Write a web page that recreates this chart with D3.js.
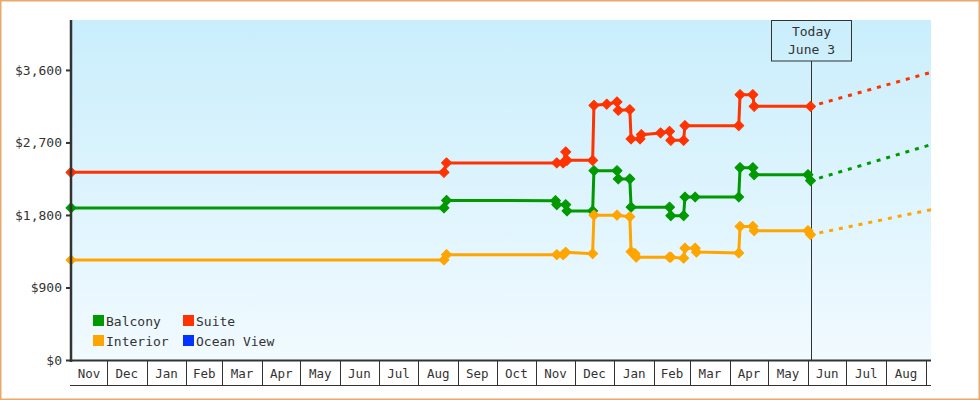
<!DOCTYPE html>
<html><head><meta charset="utf-8">
<script src="https://cdn.jsdelivr.net/npm/d3@7"></script>
<style>
html,body{margin:0;padding:0;background:#fff;}
svg{display:block;}
text{font-family:"DejaVu Sans Mono",monospace;fill:#333;}
</style>
</head><body>
<svg id="chart" width="980" height="400"></svg>
<script>
// ---------- data ----------
const categories = ["Balcony", "Suite", "Interior", "Ocean View"];
const colors = ["#009900", "#ff3300", "#ffa500", "#0033ff"];

const balcony = [
  ["2021-11-03",1887],["2022-08-21",1887],["2022-08-23",1981],["2022-11-16",1978],
  ["2022-11-17",1928],["2022-11-24",1928],["2022-11-25",1850],["2022-12-15",1850],
  ["2022-12-16",2350],["2023-01-03",2350],["2023-01-04",2247],["2023-01-13",2247],
  ["2023-01-14",1897],["2023-02-13",1897],["2023-02-14",1791],["2023-02-24",1791],
  ["2023-02-25",2023],["2023-03-05",2023],["2023-04-08",2023],["2023-04-09",2387],
  ["2023-04-19",2387],["2023-04-20",2300],["2023-06-01",2300],["2023-06-03",2226]
];
const suite = [
  ["2021-11-03",2329],["2022-08-21",2329],["2022-08-23",2446],["2022-11-17",2446],
  ["2022-11-22",2446],["2022-11-24",2582],["2022-11-25",2478],["2022-12-15",2478],
  ["2022-12-16",3161],["2022-12-26",3175],["2023-01-03",3203],["2023-01-04",3099],
  ["2023-01-13",3107],["2023-01-14",2744],["2023-01-21",2744],["2023-01-22",2797],
  ["2023-02-06",2818],["2023-02-13",2838],["2023-02-14",2726],["2023-02-24",2726],
  ["2023-02-25",2909],["2023-04-08",2909],["2023-04-09",3293],["2023-04-19",3293],
  ["2023-04-20",3148],["2023-06-03",3148]
];
const interior = [
  ["2021-11-03",1241],["2022-08-21",1241],["2022-08-23",1307],["2022-11-17",1307],
  ["2022-11-22",1307],["2022-11-24",1336],["2022-12-15",1320],["2022-12-16",1797],
  ["2023-01-03",1797],["2023-01-13",1779],["2023-01-14",1344],["2023-01-17",1320],
  ["2023-01-18",1276],["2023-02-13",1276],["2023-02-14",1276],["2023-02-24",1264],
  ["2023-02-25",1388],["2023-03-05",1388],["2023-03-06",1340],["2023-04-08",1328],
  ["2023-04-09",1658],["2023-04-19",1658],["2023-04-20",1605],["2023-06-01",1605],
  ["2023-06-03",1555]
];
const oceanView = [];

const seriesData = [balcony, suite, interior, oceanView];
const projectedValues = [2673, 3570, 1866, null];

const startDate = "2021-11-03";
const endDate = "2023-09-05";
const lastMonth = "2023-09-01";
const todayDate = "2023-06-03";
const todayLabels = ["Today", "June 3"];
const yTicks = [0, 900, 1800, 2700, 3600];
const yMax = 4220;

// ---------- layout ----------
const parse = d3.timeParse("%Y-%m-%d");
const L = 71, R = 931, T = 20, B = 360;
const svg = d3.select("#chart");

const x = d3.scaleTime().domain([parse(startDate), parse(endDate)]).range([L, R]);
const y = d3.scaleLinear().domain([0, yMax]).range([B, T]);

// background
const defs = svg.append("defs");
const grad = defs.append("linearGradient").attr("id","bg").attr("x1",0).attr("y1",0).attr("x2",0).attr("y2",1);
grad.append("stop").attr("offset","0%").attr("stop-color","#caeefc");
grad.append("stop").attr("offset","100%").attr("stop-color","#f1faff");

svg.append("rect").attr("x",0.75).attr("y",0.75).attr("width",978.5).attr("height",398.5)
  .attr("fill","#fff").attr("stroke","#e9a96b").attr("stroke-width",1.5);

svg.append("rect").attr("x",L).attr("y",T).attr("width",R-L).attr("height",B-T).attr("fill","url(#bg)");

// today marker
const tx = Math.round(x(parse(todayDate))) + 0.5;
svg.append("line").attr("x1",tx).attr("x2",tx).attr("y1",T+41).attr("y2",B)
  .attr("stroke","#333").attr("stroke-width",1);
svg.append("rect").attr("x",tx-40).attr("y",T+0.5).attr("width",80).attr("height",40.5)
  .attr("fill","none").attr("stroke","#333").attr("stroke-width",1);
todayLabels.forEach((t,i)=>{
  svg.append("text").attr("x",tx).attr("y",T+16+i*18).attr("text-anchor","middle")
    .attr("font-size","13px").attr("xml:space","preserve").text(t);
});

// series lines
const line = d3.line().x(d=>x(parse(d[0]))).y(d=>y(d[1]));
seriesData.forEach((s,i)=>{
  if(!s.length) return;
  svg.append("path").datum(s).attr("d",line).attr("fill","none")
    .attr("stroke",colors[i]).attr("stroke-width",3).attr("stroke-linejoin","round");
  if(projectedValues[i]!=null){
    const last = s[s.length-1];
    svg.append("path").datum([last,[endDate,projectedValues[i]]]).attr("d",line)
      .attr("fill","none").attr("stroke",colors[i]).attr("stroke-width",3)
      .attr("stroke-dasharray","4,6").attr("stroke-dashoffset",1);
  }
});
// markers
const sym = d3.symbol().type(d3.symbolSquare).size(50);
seriesData.forEach((s,i)=>{
  svg.append("g").selectAll("path").data(s).join("path")
    .attr("d",sym)
    .attr("transform",d=>`translate(${x(parse(d[0]))},${y(d[1])}) rotate(45)`)
    .attr("fill",colors[i]).attr("stroke",colors[i]).attr("stroke-width",1).attr("stroke-linejoin","round");
});

// x axis: month boxes
const months = d3.timeMonth.range(d3.timeMonth.floor(parse(startDate)), parse(lastMonth));
const fmt = d3.timeFormat("%b");
const xg = svg.append("g");
months.forEach(m=>{
  const x0 = Math.max(x(m), L);
  const x1 = x(d3.timeMonth.offset(m,1));
  xg.append("text").attr("x",(x0+x1)/2).attr("y",377.5).attr("text-anchor","middle")
    .attr("font-size","12.5px").text(fmt(m));
  const bx = Math.round(x1)+0.5;
  xg.append("line").attr("x1",bx).attr("x2",bx).attr("y1",B).attr("y2",385)
    .attr("stroke","#333").attr("stroke-width",1);
});
xg.append("line").attr("x1",L-1).attr("x2",R).attr("y1",385.5).attr("y2",385.5)
  .attr("stroke","#333").attr("stroke-width",1);
xg.append("line").attr("x1",L-1).attr("x2",R).attr("y1",B+0.5).attr("y2",B+0.5)
  .attr("stroke","#333").attr("stroke-width",2);

// y axis
const ya = svg.append("g").attr("transform",`translate(${L},0)`)
  .call(d3.axisLeft(y).tickValues(yTicks).tickFormat(d3.format("$,")).tickSize(5).tickPadding(4));
ya.select(".domain").remove();
ya.selectAll(".tick line").attr("stroke","#333").attr("stroke-width",2);
ya.selectAll(".tick text").attr("font-size","13px").attr("font-family","DejaVu Sans Mono, monospace").attr("fill","#333");
svg.append("line").attr("x1",L).attr("x2",L).attr("y1",T).attr("y2",B+2)
  .attr("stroke","#333").attr("stroke-width",2.5);

// legend
categories.forEach((c,i)=>{
  const col = i%2, row = Math.floor(i/2);
  const lx = 93 + col*90, ly = 315 + row*20;
  svg.append("rect").attr("x",lx).attr("y",ly).attr("width",11).attr("height",11).attr("fill",colors[i]);
  svg.append("text").attr("x",lx+13).attr("y",ly+10.5).attr("font-size","13px").text(c);
});
</script>
</body></html>
